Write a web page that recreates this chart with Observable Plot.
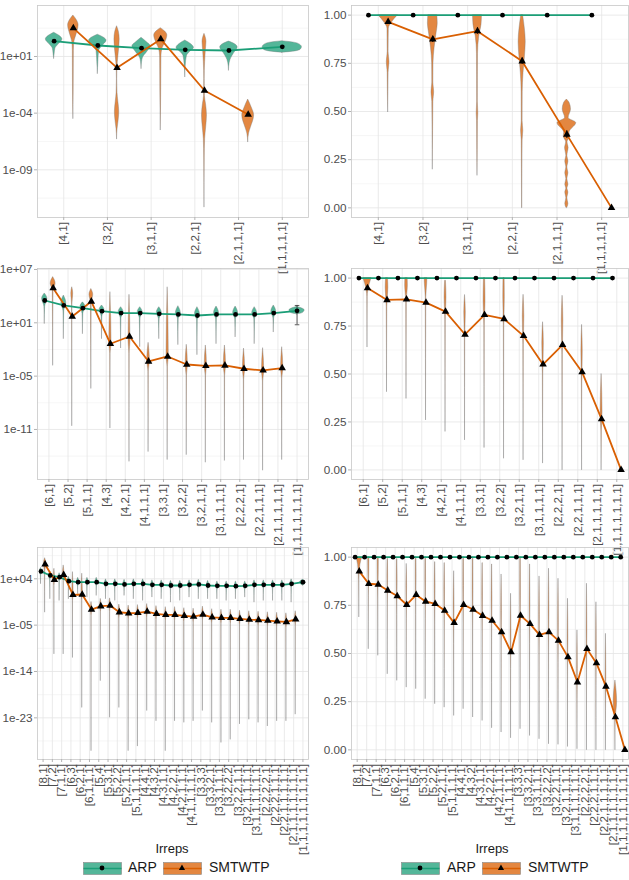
<!DOCTYPE html>
<html><head><meta charset="utf-8">
<script src="https://cdn.jsdelivr.net/npm/d3@7"></script>
<script src="https://cdn.jsdelivr.net/npm/@observablehq/plot@0.6"></script>
<style>
body{margin:0;background:#fff;}
#root{position:relative;width:629px;height:880px;overflow:hidden;background:#fff;font-family:"Liberation Sans",Arial,sans-serif;}
.panel{position:absolute;}
.panel svg{overflow:visible;background:transparent;}
g[aria-label="x-axis tick"], g[aria-label="y-axis tick"]{stroke:#b3b3b3;}
.ltitle{position:absolute;font-size:13px;color:#1a1a1a;transform:translateX(-50%);line-height:16px;}
.ltext{position:absolute;font-size:14px;color:#1a1a1a;line-height:16px;}
.lkey{position:absolute;}
</style></head><body><div id="root"></div>
<script>
// ---------------- categories (tick labels) ----------------
const cats5 = ["[4,1]","[3,2]","[3,1,1]","[2,2,1]","[2,1,1,1]","[1,1,1,1,1]"];
const cats7 = ["[6,1]","[5,2]","[5,1,1]","[4,3]","[4,2,1]","[4,1,1,1]","[3,3,1]","[3,2,2]","[3,2,1,1]","[3,1,1,1,1]","[2,2,2,1]","[2,2,1,1,1]","[2,1,1,1,1,1]","[1,1,1,1,1,1,1]"];
const cats9 = ["[8,1]","[7,2]","[7,1,1]","[6,3]","[6,2,1]","[6,1,1,1]","[5,4]","[5,3,1]","[5,2,2]","[5,2,1,1]","[5,1,1,1,1]","[4,4,1]","[4,3,2]","[4,3,1,1]","[4,2,2,1]","[4,2,1,1,1]","[4,1,1,1,1,1]","[3,3,3]","[3,3,2,1]","[3,3,1,1,1]","[3,2,2,2]","[3,2,2,1,1]","[3,2,1,1,1,1]","[3,1,1,1,1,1,1]","[2,2,2,2,1]","[2,2,2,1,1,1]","[2,2,1,1,1,1,1]","[2,1,1,1,1,1,1,1]","[1,1,1,1,1,1,1,1,1]"];
const groups = ["ARP","SMTWTP"];

// y tick labels (log panels: exponents of 10)
const logTicks1 = [1,-4,-9];
const logTicks3 = [7,1,-5,-11];
const logTicks5 = [4,-5,-14,-23];
const linTicks = [0,0.25,0.5,0.75,1];
const yDom1 = [-13.21,5.5], yDom3 = [-16.63,7.11], yDom5 = [-31.09,10.08], linDom = [-0.05,1.05];

// ---------------- panel 1 : n=5, log10 values ----------------
const p1Arp = [2.35,1.97,1.73,1.59,1.53,1.85];
const p1Smt = [3.5,0.0,2.53,-2.0,-4.12,null];
const p1ArpViolins = [
  [[0.8,0],[1.2,0.012],[1.7,0.03],[2.05,0.1],[2.5,0.19],[2.8,0.13],[3.09,0]],
  [[-0.53,0],[0.5,0.012],[1.5,0.03],[1.9,0.1],[2.4,0.2],[2.7,0.12],[2.92,0]],
  [[-0.09,0],[0.5,0.012],[0.9,0.035],[1.4,0.13],[1.9,0.21],[2.3,0.11],[2.65,0]],
  [[-0.82,0],[0.2,0.012],[1.05,0.04],[1.4,0.11],[1.75,0.2],[2.1,0.13],[2.41,0]],
  [[-0.24,0],[0.4,0.015],[0.7,0.035],[1.3,0.12],[1.8,0.2],[2.1,0.13],[2.32,0]],
  [[1.33,0],[1.45,0.3],[1.6,0.42],[1.82,0.45],[2.0,0.42],[2.2,0.3],[2.35,0]]
];
const p1SmtViolins = [
  [[-4.5,0],[-2,0.008],[1.5,0.012],[2.3,0.025],[2.9,0.07],[3.75,0.12],[4.2,0.08],[4.62,0]],
  [[-6.3,0],[-5.4,0.012],[-4.7,0.035],[-3.9,0.05],[-3.0,0.03],[-2.2,0.01],[-1.0,0.004],[0.0,0.008],[1.0,0.03],[2.5,0.06],[3.2,0.04],[3.67,0]],
  [[-5.5,0],[-2,0.01],[1.0,0.015],[1.7,0.04],[2.2,0.1],[2.85,0.15],[3.2,0.1],[3.5,0]],
  [[-12.3,0],[-8,0.006],[-6.3,0.015],[-5.2,0.04],[-4.2,0.057],[-3.2,0.035],[-2.5,0.01],[-1.0,0.005],[0.5,0.015],[1.5,0.03],[2.3,0.045],[3.0,0]],
  [[-6.56,0],[-5.8,0.02],[-5.3,0.06],[-4.2,0.136],[-3.5,0.08],[-2.8,0]],
  null
];

// ---------------- panel 2 : n=5, linear ----------------
const p2Arp = [1,1,1,1,1,1];
const p2Smt = [0.965,0.874,0.917,0.761,0.38,0.0];
const p2SmtErr = [0.01,0.016,0.016,0.016,0.02,0];
const p2SmtViolins = [
  [[0.497,0],[0.6,0.006],[0.7,0.01],[0.757,0.03],[0.81,0.01],[0.93,0.015],[0.96,0.08],[1.0,0.22]],
  [[0.2,0],[0.4,0.006],[0.55,0.012],[0.6,0.03],[0.65,0.012],[0.75,0.015],[0.83,0.04],[0.9,0.08],[0.957,0.11],[1.0,0.1]],
  [[0.168,0],[0.3,0.006],[0.45,0.01],[0.49,0.018],[0.55,0.008],[0.8,0.012],[0.89,0.04],[0.95,0.09],[1.0,0.1]],
  [[0,0.003],[0.2,0.006],[0.35,0.01],[0.4,0.025],[0.45,0.01],[0.6,0.012],[0.7,0.03],[0.78,0.06],[0.86,0.08],[0.93,0.06],[1.0,0.02]],
  [[0,0.01],[0.02,0.035],[0.05,0.012],[0.08,0.035],[0.1,0.012],[0.12,0.035],[0.15,0.012],[0.18,0.035],[0.21,0.012],[0.24,0.035],[0.27,0.012],[0.31,0.04],[0.34,0.015],[0.37,0.07],[0.39,0.06],[0.44,0.21],[0.466,0.04],[0.51,0.093],[0.545,0.06],[0.562,0]],
  null
];

// ---------------- panel 3 : n=7, log10 values ----------------
// violin profile: [low end, body low, width, peak, peak width, high end, width at top]
const p3Arp = [3.51,2.95,2.65,2.31,2.09,2.09,2.01,1.94,1.82,1.94,1.94,1.94,2.09,2.35];
const p3Smt = [4.9,1.71,3.4,-1.36,-0.54,-3.35,-2.79,-3.69,-3.84,-3.8,-4.17,-4.36,-4.1,null];
const p3ArpLastErr = [0.78,2.95];
const p3ArpViolins = [
  [0.9,2.8,0.02,3.7,0.14,4.3,0],[-0.8,2.3,0.02,3.2,0.13,4.07,0],[-0.24,2.0,0.02,2.8,0.13,3.3,0],
  [-0.8,1.7,0.02,2.45,0.13,2.95,0],[-1.85,1.5,0.02,2.2,0.13,2.76,0],[-1.7,1.5,0.02,2.2,0.13,2.76,0],
  [-0.8,1.4,0.02,2.15,0.13,2.76,0],[-1.47,1.4,0.02,2.1,0.13,2.87,0],[-2.6,1.3,0.02,2.0,0.13,2.76,0],
  [-1.36,1.4,0.02,2.1,0.13,2.83,0],[-0.6,1.4,0.02,2.1,0.13,2.83,0],[-1.36,1.4,0.02,2.1,0.13,2.76,0],
  [-0.05,1.5,0.02,2.25,0.13,2.95,0],[1.95,2.1,0.3,2.4,0.4,2.8,0]
];
const p3SmtViolins = [
  [-3.8,4.6,0.02,5.4,0.13,6.14,0],[-10.6,3.0,0.01,4.3,0.05,5.0,0],[-6.4,3.2,0.02,4.15,0.1,4.8,0],
  [-10.85,-2.5,0.01,-1.36,0.06,4.45,0],[-14.6,-2.5,0.01,-1.0,0.05,4.15,0],[-13.5,-4.5,0.01,-3.3,0.07,-1.25,0],
  [-14.4,-4.0,0.01,-2.8,0.06,5.0,0],[-13.85,-5.0,0.01,-3.7,0.06,-1.47,0],[-14.7,-5.0,0.01,-3.8,0.06,-1.55,0],
  [-14.5,-5.0,0.01,-3.8,0.06,-1.55,0],[-14.4,-5.4,0.01,-4.2,0.06,-1.9,0],[-15.6,-5.6,0.01,-4.4,0.06,-1.85,0],
  [-14.4,-5.3,0.01,-4.1,0.06,-1.74,0],null
];

// ---------------- panel 4 : n=7, linear ----------------
const p4Arp = [1,1,1,1,1,1,1,1,1,1,1,1,1,1];
const p4Smt = [0.948,0.886,0.889,0.872,0.825,0.706,0.808,0.787,0.699,0.55,0.652,0.51,0.265,0.0];
const p4SmtViolins = [
  [0.64,0.9,0.01,0.97,0.12,1.0,0.21],[0.407,0.85,0.015,0.95,0.07,1.0,0.05],[0.372,0.88,0.015,0.96,0.07,1.0,0.06],
  [0.26,0.9,0.015,0.97,0.06,1.0,0.07],[0.2,0.78,0.012,0.9,0.05,0.986,0.02],[0.156,0.7,0.012,0.82,0.04,0.912,0],
  [0.116,0.75,0.012,0.88,0.05,1.0,0.03],[0.06,0.75,0.012,0.9,0.04,1.0,0.03],[0.052,0.65,0.012,0.8,0.04,0.913,0],
  [0.035,0.5,0.012,0.66,0.04,0.77,0],[0,0.6,0.012,0.78,0.04,0.908,0],[0,0.45,0.012,0.62,0.035,0.756,0],
  [0,0.2,0.012,0.3,0.05,0.5,0],null
];

// ---------------- panel 5 : n=9, log10 values ----------------
const p5Arp = [5.43,4.65,4.32,3.55,3.35,3.35,3.35,3.03,3.03,2.9,3.03,3.03,2.83,2.83,2.7,2.7,2.83,2.9,2.7,2.64,2.64,2.57,2.64,2.83,2.83,2.83,2.83,3.03,3.35];
const p5Smt = [6.79,3.81,4.78,0.88,0.95,-1.97,-1.32,-1.19,-2.49,-2.69,-2.62,-2.36,-2.82,-3.01,-3.01,-3.21,-3.34,-2.95,-3.47,-3.6,-3.6,-3.79,-3.92,-3.99,-4.12,-4.25,-4.38,-3.86,null];
const p5ArpViolins = [
  [3.03,4.7,0.03,5.43,0.14,6.1,0],[0.1,3.8,0.02,4.65,0.13,5.4,0],[-0.22,3.5,0.02,4.32,0.13,5.1,0],
  [0.1,2.7,0.02,3.55,0.13,4.4,0],[1.08,2.5,0.02,3.35,0.13,4.2,0],[0.43,2.5,0.02,3.35,0.13,4.2,0],
  [0.75,2.5,0.02,3.35,0.13,4.2,0],[0.1,2.2,0.02,3.03,0.13,3.9,0],[-0.22,2.2,0.02,3.03,0.13,3.9,0],
  [0.75,2.1,0.02,2.9,0.13,3.8,0],[0.1,2.2,0.02,3.03,0.13,3.9,0],[-0.22,2.2,0.02,3.03,0.13,3.9,0],
  [0.43,2.0,0.02,2.83,0.13,3.7,0],[0.1,2.0,0.02,2.83,0.13,3.7,0],[-0.55,1.9,0.02,2.7,0.13,3.6,0],
  [-0.22,1.9,0.02,2.7,0.13,3.6,0],[0.43,2.0,0.02,2.83,0.13,3.7,0],[0.1,2.1,0.02,2.9,0.13,3.8,0],
  [0.1,1.9,0.02,2.7,0.13,3.6,0],[0.1,1.8,0.02,2.64,0.13,3.5,0],[-0.22,1.8,0.02,2.64,0.13,3.5,0],
  [0.1,1.8,0.02,2.57,0.13,3.5,0],[0.43,1.8,0.02,2.64,0.13,3.5,0],[-0.55,2.0,0.02,2.83,0.13,3.7,0],
  [-0.22,2.0,0.02,2.83,0.13,3.7,0],[-0.22,2.0,0.02,2.83,0.13,3.7,0],[-0.22,2.0,0.02,2.83,0.13,3.7,0],
  [-0.55,2.2,0.02,3.03,0.13,3.9,0],[2.7,2.9,0.2,3.35,0.3,3.8,0]
];
const p5SmtViolins = [
  [-2.5,5.5,0.02,6.9,0.13,8.0,0],[-10.6,2.6,0.01,3.81,0.07,5.95,0],[-10.6,3.6,0.01,4.9,0.08,6.6,0],
  [-11.3,-0.3,0.01,0.88,0.07,5.3,0],[-21.0,-0.2,0.01,0.95,0.07,5.0,0],[-29.4,-3.2,0.01,-1.97,0.08,-0.5,0],
  [-15.8,-2.5,0.01,-1.32,0.08,0.1,0],[-22.9,-2.4,0.01,-1.19,0.08,0.2,0],[-21.0,-3.7,0.01,-2.49,0.08,-1.0,0],
  [-29.4,-3.9,0.01,-2.69,0.08,-1.2,0],[-28.5,-3.8,0.01,-2.62,0.08,-1.1,0],[-21.6,-3.6,0.01,-2.36,0.08,-0.9,0],
  [-23.6,-4.0,0.01,-2.82,0.08,-1.3,0],[-29.4,-4.2,0.01,-3.01,0.08,-1.5,0],[-23.6,-4.2,0.01,-3.01,0.08,-1.5,0],
  [-23.9,-4.4,0.01,-3.21,0.08,-1.7,0],[-23.6,-4.5,0.01,-3.34,0.08,-1.8,0],[-21.6,-4.1,0.01,-2.95,0.08,-1.4,0],
  [-23.9,-4.7,0.01,-3.47,0.08,-1.9,0],[-27.8,-4.8,0.01,-3.6,0.08,-2.0,0],[-27.2,-4.8,0.01,-3.6,0.08,-2.0,0],
  [-24.2,-5.0,0.01,-3.79,0.08,-2.2,0],[-23.3,-5.1,0.01,-3.92,0.08,-2.3,0],[-23.9,-5.2,0.01,-3.99,0.08,-2.4,0],
  [-24.6,-5.3,0.01,-4.12,0.08,-2.5,0],[-23.6,-5.4,0.01,-4.25,0.08,-2.6,0],[-23.6,-5.6,0.01,-4.38,0.08,-2.7,0],
  [-22.3,-5.1,0.01,-3.86,0.08,-2.3,0],null
];

// ---------------- panel 6 : n=9, linear ----------------
const p6Arp = cats9.map(() => 1);
const p6Smt = [0.926,0.862,0.858,0.827,0.798,0.753,0.804,0.770,0.758,0.723,0.659,0.753,0.728,0.696,0.671,0.611,0.507,0.697,0.654,0.597,0.611,0.567,0.481,0.351,0.524,0.450,0.329,0.170,0.0];
const p6SmtViolins = [
  [0.689,0.88,0.015,0.96,0.12,1.0,0.32],[0.524,0.8,0.012,0.93,0.05,1.0,0.06],[0.49,0.78,0.012,0.92,0.05,1.0,0.06],
  [0.394,0.75,0.012,0.9,0.04,0.991,0.02],[0.36,0.7,0.012,0.88,0.04,0.99,0.02],[0.325,0.68,0.012,0.85,0.04,0.965,0],
  [0.317,0.7,0.012,0.9,0.04,1.0,0.03],[0.265,0.68,0.012,0.88,0.04,1.0,0.03],[0.239,0.65,0.012,0.85,0.04,0.974,0.01],
  [0.221,0.62,0.012,0.83,0.04,0.969,0.01],[0.178,0.55,0.012,0.75,0.04,0.927,0],[0.213,0.65,0.012,0.85,0.04,1.0,0.03],
  [0.17,0.62,0.012,0.83,0.04,1.0,0.03],[0.152,0.6,0.012,0.8,0.04,0.969,0.01],[0.114,0.58,0.012,0.78,0.04,0.962,0.01],
  [0.092,0.52,0.012,0.72,0.04,0.91,0],[0.062,0.42,0.012,0.6,0.04,0.81,0],[0.109,0.6,0.012,0.8,0.04,1.0,0.03],
  [0.074,0.55,0.012,0.75,0.04,0.962,0.01],[0.057,0.5,0.012,0.7,0.04,0.9,0],[0.031,0.5,0.012,0.72,0.04,0.94,0],
  [0.028,0.45,0.012,0.66,0.04,0.888,0],[0.017,0.38,0.012,0.58,0.04,0.784,0],[0.005,0.25,0.012,0.42,0.04,0.62,0],
  [0,0.4,0.012,0.62,0.04,0.862,0],[0,0.33,0.012,0.52,0.04,0.766,0],[0,0.2,0.012,0.38,0.04,0.602,0],
  [0,0.15,0.02,0.25,0.18,0.36,0],null
];

// ---------------- drawing ----------------
const colors = {ARP:"#1b9e77", SMTWTP:"#d95f02"};
const DODGE = 0.22;
const fmtExp = e => "1e" + (e < 0 ? "-" : "+") + String(Math.abs(e)).padStart(2,"0");

function violinRows(v, c, log, id) {
  const knots = Array.isArray(v[0]) ? v : [[v[0],0],[v[1],v[2]],[v[3],v[4]],[v[5],v[6]]];
  return knots.map(([val,w]) => ({id, y: log ? 10 ** val : val, x1: c - w, x2: c + w}));
}

function makePanel(cfg) {
  const {cats, log, dom, ticks, arp, smt, arpViol, smtViol, smtErr, arpLastErr, left, top, width, height, mL, mR, mB} = cfg;
  const n = cats.length;
  const tv = v => (log ? 10 ** v : v);
  const arpX = i => (smt[i] == null ? i : i - DODGE);
  const arpRows = arp.map((v,i) => ({x: arpX(i), y: tv(v)}));
  const smtRows = smt.map((v,i) => v == null ? null : ({x: i + DODGE, y: tv(v)})).filter(d => d);
  const violA = [], violS = [];
  if (arpViol) arpViol.forEach((v,i) => { if (v) violA.push(...violinRows(v, arpX(i), log, "a" + i)); });
  if (smtViol) smtViol.forEach((v,i) => { if (v) violS.push(...violinRows(v, i + DODGE, log, "s" + i)); });
  // grid
  const sorted = [...ticks].sort((a,b) => a - b);
  const step = log ? (sorted[1] - sorted[0]) : 0.25;
  const minor = [];
  for (let m = sorted[0] - step / 2; m <= dom[1]; m += step) if (m >= dom[0]) minor.push(m);
  const marks = [
    Plot.ruleY(minor.map(tv), {stroke: "#f0f0f0", strokeWidth: 0.6}),
    Plot.ruleY(ticks.map(tv), {stroke: "#e5e5e5", strokeWidth: 0.8}),
    Plot.ruleX(d3.range(n), {stroke: "#e5e5e5", strokeWidth: 0.8}),
    Plot.areaX(violA, {y: "y", x1: "x1", x2: "x2", z: "id", curve: "monotone-y", fill: colors.ARP, fillOpacity: 0.75, stroke: "#777", strokeWidth: 0.5, strokeOpacity: 0.75}),
    Plot.areaX(violS, {y: "y", x1: "x1", x2: "x2", z: "id", curve: "monotone-y", fill: colors.SMTWTP, fillOpacity: 0.75, stroke: "#777", strokeWidth: 0.5, strokeOpacity: 0.75}),
    Plot.line(arpRows, {x: "x", y: "y", stroke: colors.ARP, strokeWidth: 1.8}),
    Plot.line(smtRows, {x: "x", y: "y", stroke: colors.SMTWTP, strokeWidth: 1.8})
  ];
  if (smtErr) {
    const er = smt.map((v,i) => ({x: i + DODGE, y1: v - smtErr[i], y2: v + smtErr[i]})).filter(d => d.y2 > d.y1);
    marks.push(Plot.ruleX(er, {x: "x", y1: "y1", y2: "y2", stroke: "black", strokeWidth: 1}));
  }
  if (arpLastErr) {
    const i = n - 1, e = [{x: arpX(i), y1: tv(arpLastErr[0]), y2: tv(arpLastErr[1])}];
    marks.push(Plot.ruleX(e, {x: "x", y1: "y1", y2: "y2", stroke: "#333", strokeWidth: 0.8}));
    marks.push(Plot.link([e[0], e[0]], {x1: d => d.x - 0.12, x2: d => d.x + 0.12, y1: (d,j) => j ? d.y2 : d.y1, y2: (d,j) => j ? d.y2 : d.y1, stroke: "#333", strokeWidth: 0.8}));
  }
  marks.push(
    Plot.dot(arpRows, {x: "x", y: "y", r: 2.4, fill: "black", symbol: "circle"}),
    Plot.dot(smtRows, {x: "x", y: "y", r: 2.8, fill: "black", symbol: "triangle"}),
    Plot.frame({stroke: "#c8c8c8", strokeWidth: 0.8}),
    Plot.axisX({ticks: d3.range(n), tickFormat: i => cats[i], tickRotate: -90, tickSize: 3, tickPadding: 1.5, label: null}),
    Plot.axisY({ticks: ticks.map(tv), tickFormat: log ? (v => fmtExp(Math.round(Math.log10(v)))) : d3.format(".2f"), tickSize: 3, tickPadding: 2, label: null})
  );
  const svg = Plot.plot({
    width, height, marginLeft: mL, marginRight: mR, marginTop: 5, marginBottom: mB,
    x: {type: "linear", domain: [-0.6, n - 0.4], label: null},
    y: log ? {type: "log", domain: [10 ** dom[0], 10 ** dom[1]], label: null} : {domain: dom, label: null},
    style: {fontFamily: '"Liberation Sans", Arial, sans-serif', fontSize: "11.7px", color: "#4d4d4d", background: "transparent", overflow: "visible"},
    marks
  });
  const div = document.createElement("div");
  div.className = "panel";
  div.style.left = left + "px"; div.style.top = top + "px";
  div.appendChild(svg);
  document.getElementById("root").appendChild(div);
}

const L = {left: 0, width: 314, mL: 37, mR: 6};
const R = {left: 315, width: 314, mL: 36, mR: 1};
makePanel({...L, top: 0, height: 267, mB: 50, cats: cats5, log: true, dom: yDom1, ticks: logTicks1, arp: p1Arp, smt: p1Smt, arpViol: p1ArpViolins, smtViol: p1SmtViolins});
makePanel({...R, top: 0, height: 267, mB: 50, cats: cats5, log: false, dom: linDom, ticks: linTicks, arp: p2Arp, smt: p2Smt, arpViol: null, smtViol: p2SmtViolins, smtErr: p2SmtErr});
makePanel({...L, top: 263, height: 278, mB: 62, cats: cats7, log: true, dom: yDom3, ticks: logTicks3, arp: p3Arp, smt: p3Smt, arpViol: p3ArpViolins, smtViol: p3SmtViolins, arpLastErr: p3ArpLastErr});
makePanel({...R, top: 263, height: 278, mB: 62, cats: cats7, log: false, dom: linDom, ticks: linTicks, arp: p4Arp, smt: p4Smt, arpViol: null, smtViol: p4SmtViolins});
makePanel({...L, top: 542, height: 302, mB: 85, cats: cats9, log: true, dom: yDom5, ticks: logTicks5, arp: p5Arp, smt: p5Smt, arpViol: p5ArpViolins, smtViol: p5SmtViolins});
makePanel({...R, top: 542, height: 302, mB: 85, cats: cats9, log: false, dom: linDom, ticks: linTicks, arp: p6Arp, smt: p6Smt, arpViol: null, smtViol: p6SmtViolins});

// ---------------- legends ----------------
function keySvg(g) {
  const c = colors[g];
  const fillA = g === "ARP" ? "rgba(27,158,119,0.75)" : "rgba(217,95,2,0.75)";
  const sym = g === "ARP" ? '<circle cx="19" cy="6" r="2.4" fill="black"/>' : '<path d="M19,2.6 L22.1,8 L15.9,8 Z" fill="black"/>';
  return `<svg width="39" height="13" viewBox="0 0 39 13"><rect x="0.5" y="0.5" width="38" height="12" fill="${fillA}" stroke="#888" stroke-width="0.6"/><line x1="0.5" y1="6.5" x2="38.5" y2="6.5" stroke="${c}" stroke-width="1.6"/>${sym}</svg>`;
}
function addLegend(cx, boxes) {
  const root = document.getElementById("root");
  const t = document.createElement("div"); t.className = "ltitle"; t.textContent = "Irreps";
  t.style.left = cx + "px"; t.style.top = "841px"; root.appendChild(t);
  groups.forEach((g, i) => {
    const k = document.createElement("div"); k.className = "lkey"; k.innerHTML = keySvg(g);
    k.style.left = boxes[i][0] + "px"; k.style.top = "861px"; root.appendChild(k);
    const s = document.createElement("div"); s.className = "ltext"; s.textContent = g;
    s.style.left = boxes[i][1] + "px"; s.style.top = "859px"; root.appendChild(s);
  });
}
addLegend(172, [[83,128],[163,209]]);
addLegend(492, [[401,447],[482,528]]);
</script></body></html>
